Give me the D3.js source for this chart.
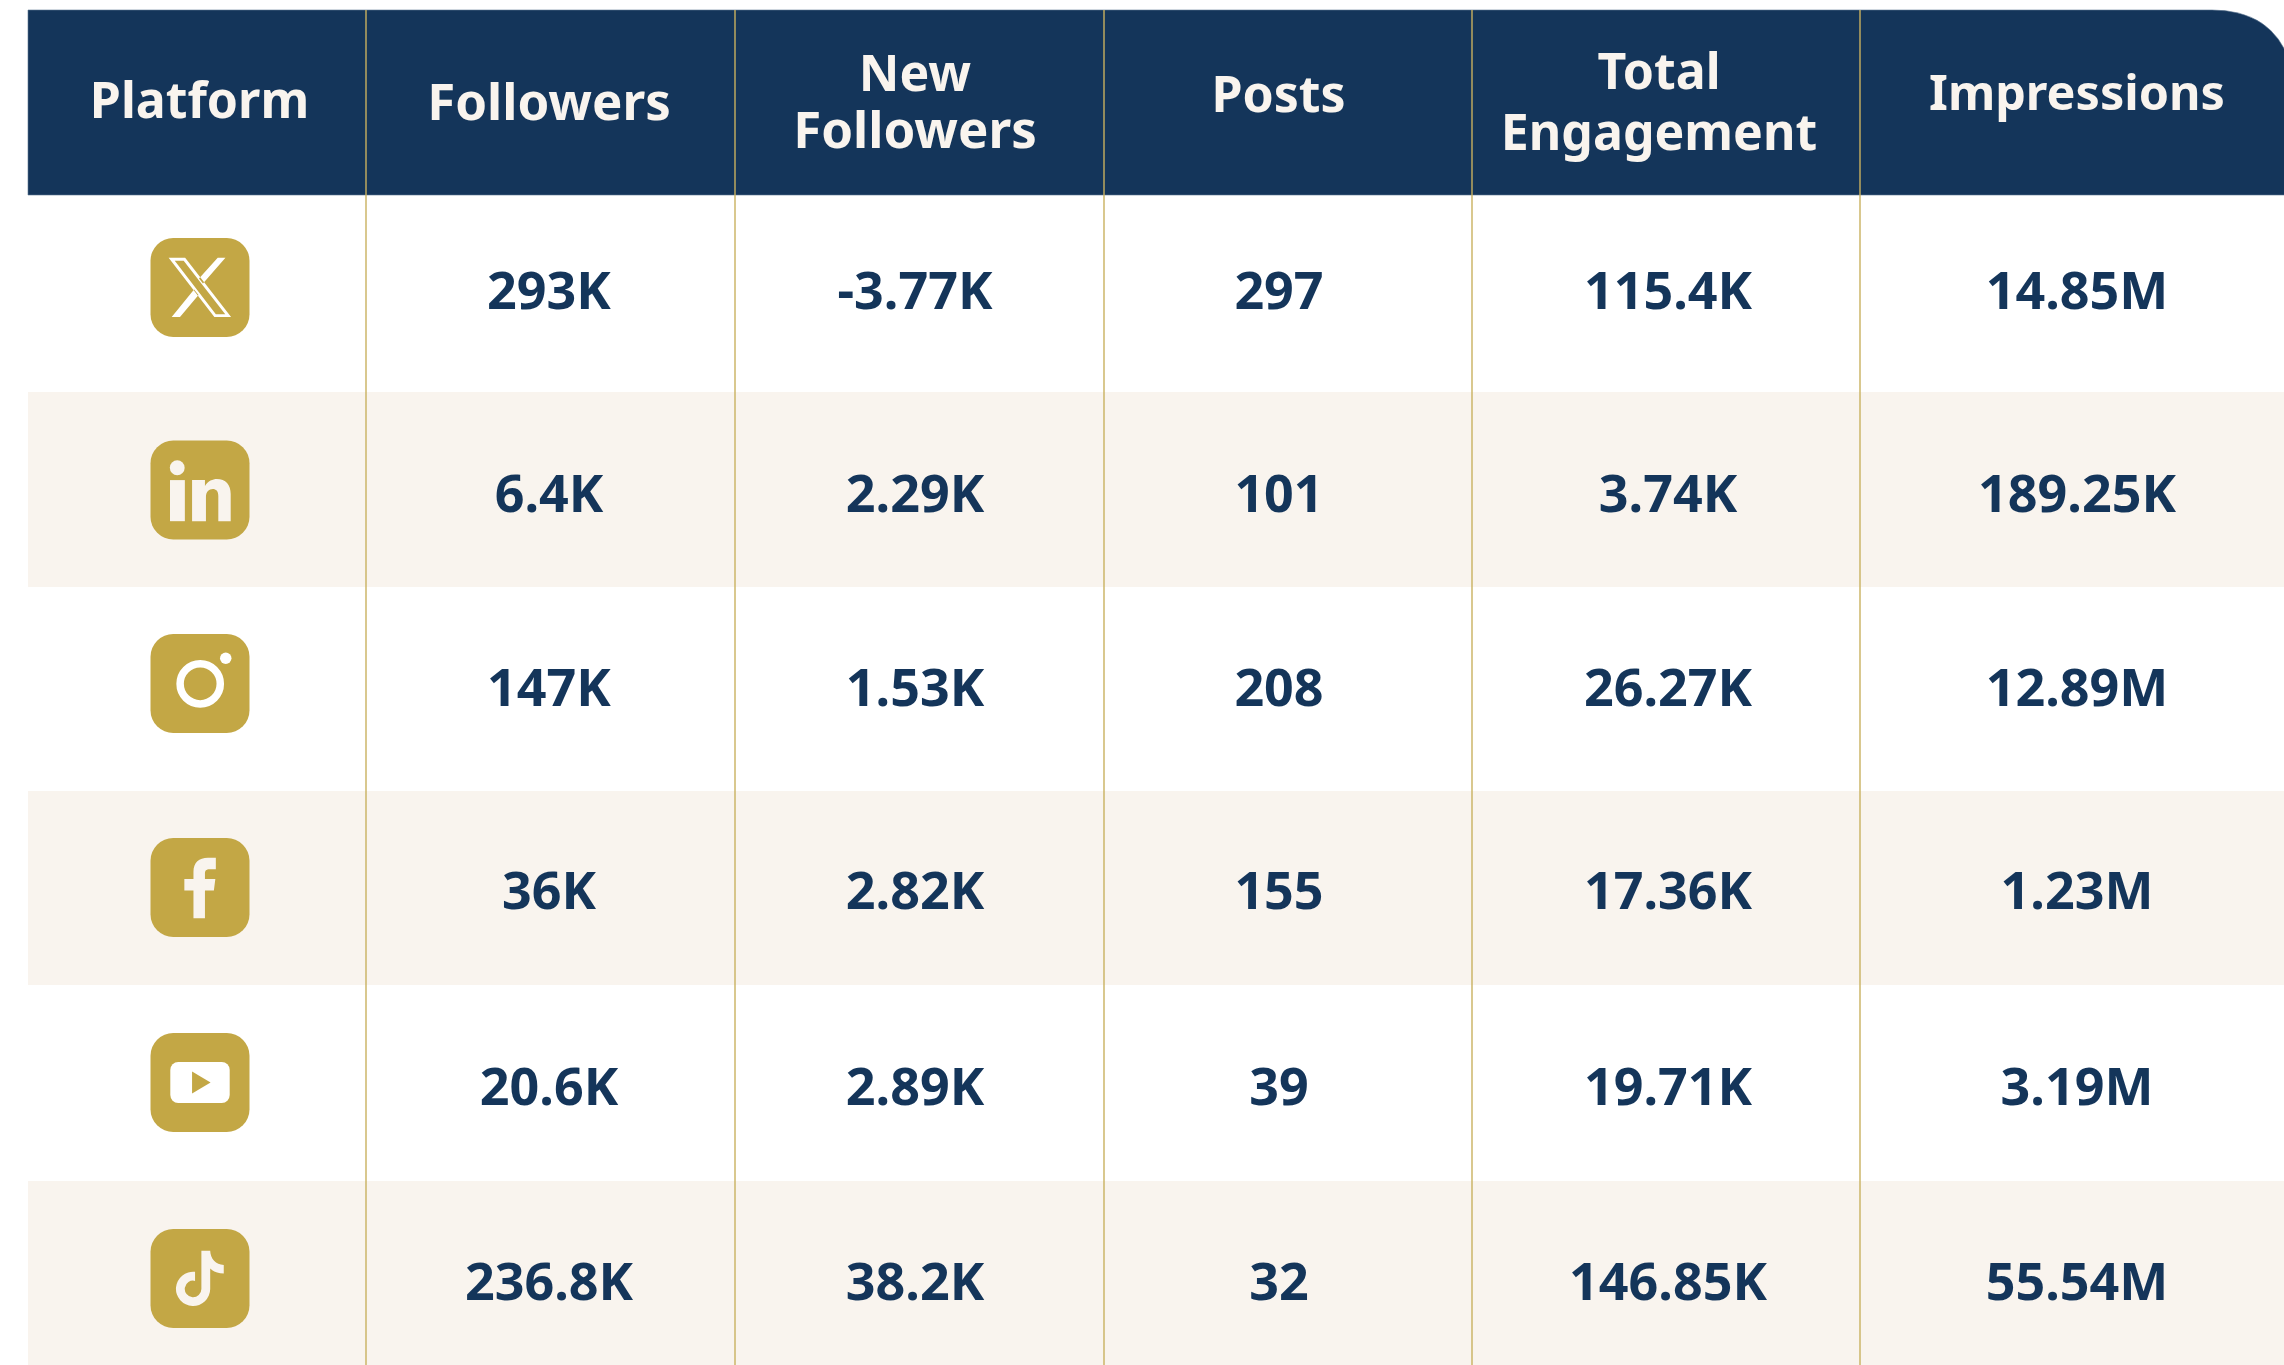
<!DOCTYPE html>
<html>
<head>
<meta charset="utf-8">
<script src="https://cdn.jsdelivr.net/npm/d3@7"></script>
<style>
  html, body { margin: 0; padding: 0; background: #fff; overflow: hidden; }
  text { font-family: "Noto Sans", sans-serif; font-weight: 700; }
</style>
</head>
<body>
<div id="table"></div>
<script>
const platforms = ["X", "LinkedIn", "Instagram", "Facebook", "YouTube", "TikTok"];
const columns = ["Platform", "Followers", "New Followers", "Posts", "Total Engagement", "Impressions"];
const followers = ["293K", "6.4K", "147K", "36K", "20.6K", "236.8K"];
const newFollowers = ["-3.77K", "2.29K", "1.53K", "2.82K", "2.89K", "38.2K"];
const posts = ["297", "101", "208", "155", "39", "32"];
const totalEngagement = ["115.4K", "3.74K", "26.27K", "17.36K", "19.71K", "146.85K"];
const impressions = ["14.85M", "189.25K", "12.89M", "1.23M", "3.19M", "55.54M"];

const width = 2284, height = 1365;
const navy = "#14355a", gold = "#c3a745", cream = "#f9f4ee", rule = "#c9b15f";

// the source is a slightly skewed screenshot so nothing is evenly spaced
const colEdges = [28, 366, 735, 1104, 1472, 1860, 2284];
const rowEdges = [196, 392, 587, 791, 985, 1181, 1365];
const headerCx = [199.5, 549, 915, 1278.5, 1659, 2077];
const valueCx = [199.5, 549, 915, 1279, 1668, 2077];
const valueBase = [309, 512, 706, 909, 1105, 1300];
const iconTop = [238, 440.5, 634, 838, 1033, 1229];
const headerLines = [
    [{t: "Platform", y: 118, s: 50}],
    [{t: "Followers", y: 120, s: 51}],
    [{t: "New", y: 90.5, s: 50}, {t: "Followers", y: 148, s: 51}],
    [{t: "Posts", y: 111.5, s: 50}],
    [{t: "Total", y: 89, s: 50}, {t: "Engagement", y: 150, s: 50}],
    [{t: "Impressions", y: 110, s: 48.5}]
];

const xEdge = d3.scaleOrdinal().domain(columns).range(colEdges);
const xHead = d3.scaleOrdinal().domain(columns).range(headerCx);
const xVal = d3.scaleOrdinal().domain(columns).range(valueCx);
const yRow = d3.scaleOrdinal().domain(platforms).range(rowEdges);
const yBase = d3.scaleOrdinal().domain(platforms).range(valueBase);
const yIcon = d3.scaleOrdinal().domain(platforms).range(iconTop);

const svg = d3.select("#table")
    .append("svg")
    .attr("width", width)
    .attr("height", height)
    .attr("viewBox", `0 0 ${width} ${height}`)
    .style("display", "block");

// striped rows
svg.append("g")
    .selectAll("rect")
    .data(platforms)
    .enter().append("rect")
    .attr("x", colEdges[0])
    .attr("y", d => yRow(d))
    .attr("width", width - colEdges[0])
    .attr("height", (d, i) => rowEdges[i + 1] - rowEdges[i])
    .attr("fill", (d, i) => i % 2 ? cream : "#fff");

// header band, only the top right corner is rounded
const r = 72;
svg.append("path")
    .attr("d", `M${colEdges[0]},10 H${width - r} Q${width - 12},10 ${width + 6},62 V195 H${colEdges[0]} Z`)
    .attr("fill", navy)
    .attr("stroke", "#5d7691")
    .attr("stroke-width", 0.6);

// column rules
svg.append("g")
    .selectAll("line")
    .data(columns.slice(1))
    .enter().append("line")
    .attr("x1", d => xEdge(d))
    .attr("x2", d => xEdge(d))
    .attr("y1", 10)
    .attr("y2", height)
    .attr("stroke", rule)
    .attr("stroke-width", 1.4);

// header labels
const head = svg.append("g")
    .selectAll("g")
    .data(columns)
    .enter().append("g");

head.selectAll("text")
    .data((d, i) => headerLines[i].map(l => ({col: d, t: l.t, y: l.y, s: l.s})))
    .enter().append("text")
    .attr("x", d => xHead(d.col))
    .attr("y", d => d.y)
    .attr("text-anchor", "middle")
    .attr("fill", cream)
    .style("font-size", d => d.s + "px")
    .text(d => d.t);

// value cells
const valueCols = [followers, newFollowers, posts, totalEngagement, impressions];
valueCols.forEach((vals, c) => {
    svg.append("g")
        .selectAll("text")
        .data(vals)
        .enter().append("text")
        .attr("x", xVal(columns[c + 1]))
        .attr("y", (d, i) => yBase(platforms[i]))
        .attr("text-anchor", "middle")
        .attr("fill", navy)
        .style("font-size", "52px")
        .text(d => d);
});

// icons, drawn in a 100x100 box
const iconSize = 99;
const icons = svg.append("g")
    .selectAll("g")
    .data(platforms)
    .enter().append("g")
    .attr("transform", d => `translate(150.5,${yIcon(d)}) scale(${iconSize / 100})`);

icons.append("rect")
    .attr("width", 100)
    .attr("height", 100)
    .attr("rx", 23)
    .attr("fill", gold);

const glyph = (name) => icons.filter(d => d === name);

glyph("X").append("path")
    .attr("fill-rule", "evenodd")
    .attr("fill", "#fff")
    .attr("d", "M18.3,20 H35 L81.4,79.7 H64.5 Z M24.5,23 L66,77 H75.5 L33.5,23 Z M67.9,20 H75.7 L53,46 L49,41 Z M21.4,79.7 H29.8 L48.5,57.5 L44,52 Z");

glyph("LinkedIn").append("circle")
    .attr("cx", 27).attr("cy", 27.5).attr("r", 7.5).attr("fill", cream);
glyph("LinkedIn").append("rect")
    .attr("x", 19.7).attr("y", 40).attr("width", 15).attr("height", 41.5).attr("fill", cream);
glyph("LinkedIn").append("path")
    .attr("fill", cream)
    .attr("d", "M42,40 H55 V46 C58,41 63,39 67,39 C76,39 81,45 81,54 V81.5 H68.5 V56 C68.5,51 66,49 63,49 C59,49 56,52 56,57 V81.5 H42 Z");

glyph("Instagram").append("circle")
    .attr("cx", 50.2).attr("cy", 50.3).attr("r", 20.3)
    .attr("fill", "none").attr("stroke", "#fff").attr("stroke-width", 7.6);
glyph("Instagram").append("circle")
    .attr("cx", 76).attr("cy", 24.5).attr("r", 5.8).attr("fill", "#fff");

glyph("Facebook").append("path")
    .attr("fill", cream)
    .attr("d", "M43.4,81 V53 H34.2 V41.5 H43.4 V34 C43.4,25 49,20 58,20 H66 V31.5 H60 C56,31.5 55,33 55,36 V41.5 H65.5 L64,53 H55 V81 Z");

glyph("YouTube").append("rect")
    .attr("x", 20).attr("y", 29.3).attr("width", 60).attr("height", 41.4).attr("rx", 8).attr("fill", "#fff");
glyph("YouTube").append("path")
    .attr("fill", gold)
    .attr("d", "M42,39 V61 L60.7,50 Z");

glyph("TikTok").append("path")
    .attr("fill", cream)
    .attr("d", "M51.4,22 H60.3 C60.5,30 66,36 74,36.4 V45 C68,45 63.5,43 60.3,40 V60.5 A17.3,17.3 0 1 1 45,43.3 V52.4 A8.4,8.4 0 1 0 51.4,60.5 Z");
</script>
</body>
</html>
